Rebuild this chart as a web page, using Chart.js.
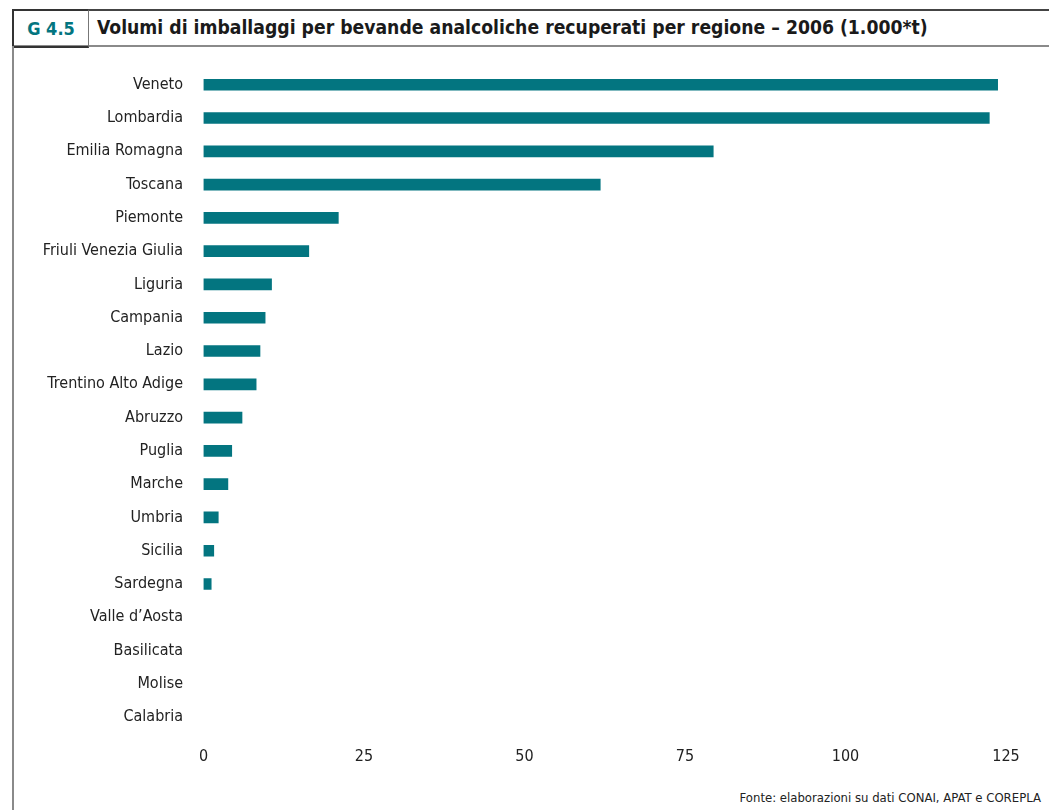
<!DOCTYPE html>
<html>
<head>
<meta charset="utf-8">
<script src="https://cdn.jsdelivr.net/npm/chart.js@4.4.1/dist/chart.umd.min.js"></script>
<style>
  html, body { margin: 0; padding: 0; background: #fff; }
  body { width: 1049px; height: 810px; position: relative; overflow: hidden;
         font-family: "DejaVu Sans Condensed", "DejaVu Sans", sans-serif; }
  .topline { position: absolute; left: 12px; right: 0; top: 9px; height: 0; border-top: 2px solid #444; }
  .botline { position: absolute; left: 12px; right: 0; top: 45px; height: 0; border-top: 2px solid #8a8a8a; }
  .code { position: absolute; left: 12px; top: 9px; width: 74px; height: 35px;
          border: 2px solid #333; border-right: 1px solid #777;
          color: #037580; font-weight: bold; font-size: 18px; line-height: 35px; text-align: center; }
  .title { position: absolute; left: 97px; top: 9px; line-height: 37px; font-weight: bold;
           font-size: 19.2px; color: #1a1a1a; white-space: nowrap; }
  .leftline { position: absolute; left: 12px; top: 46px; bottom: 0; width: 2px; background: #8a8a8a; }
  .wrap { position: absolute; left: 14px; top: 38px; width: 1035px; height: 752px; }
  .source { position: absolute; right: 8px; top: 790px; font-size: 13px; color: #222; white-space: nowrap; }
</style>
</head>
<body>
<div class="topline"></div>
<div class="botline"></div>
<div class="code">G 4.5</div>
<div class="title">Volumi di imballaggi per bevande analcoliche recuperati per regione – 2006 (1.000*t)</div>
<div class="leftline"></div>
<div class="wrap"><canvas id="chart"></canvas></div>
<div class="source">Fonte: elaborazioni su dati CONAI, APAT e COREPLA</div>
<script>
const regions = ['Veneto', 'Lombardia', 'Emilia Romagna', 'Toscana', 'Piemonte',
  'Friuli Venezia Giulia', 'Liguria', 'Campania', 'Lazio', 'Trentino Alto Adige',
  'Abruzzo', 'Puglia', 'Marche', 'Umbria', 'Sicilia', 'Sardegna',
  'Valle d\u2019Aosta', 'Basilicata', 'Molise', 'Calabria'];
const volumes = [123.7, 122.4, 79.4, 61.8, 21.0, 16.4, 10.6, 9.6, 8.8, 8.2,
  6.0, 4.4, 3.8, 2.3, 1.6, 1.2, 0, 0, 0, 0];
const xTicks = [0, 25, 50, 75, 100, 125];

const barColor = '#037580';
Chart.defaults.font.family = '"DejaVu Sans Condensed", "DejaVu Sans", sans-serif';
Chart.defaults.color = '#222';

new Chart(document.getElementById('chart'), {
  type: 'bar',
  data: {
    labels: regions,
    datasets: [{
      data: volumes,
      // zero-value regions get no visible mark
      backgroundColor: ctx => (ctx.raw > 0 ? barColor : 'rgba(0,0,0,0)'),
      barThickness: 11,
      borderWidth: 0
    }]
  },
  options: {
    indexAxis: 'y',
    responsive: true,
    maintainAspectRatio: false,
    animation: false,
    layout: { padding: { top: 9, bottom: 11, left: 0, right: 43 } },
    plugins: {
      legend: { display: false },
      tooltip: { enabled: false }
    },
    scales: {
      x: {
        min: 0,
        max: 125,
        afterBuildTicks: scale => { scale.ticks = xTicks.map(v => ({ value: v })); },
        grid: { display: false, drawTicks: false },
        border: { display: false },
        ticks: { padding: 13, font: { size: 16 }, color: '#222' }
      },
      y: {
        afterFit: scale => { scale.width = 189.5; },
        grid: { display: false, drawTicks: false },
        border: { display: false },
        ticks: { padding: 20.5, font: { size: 16 }, color: '#222', autoSkip: false }
      }
    }
  }
});
</script>
</body>
</html>
